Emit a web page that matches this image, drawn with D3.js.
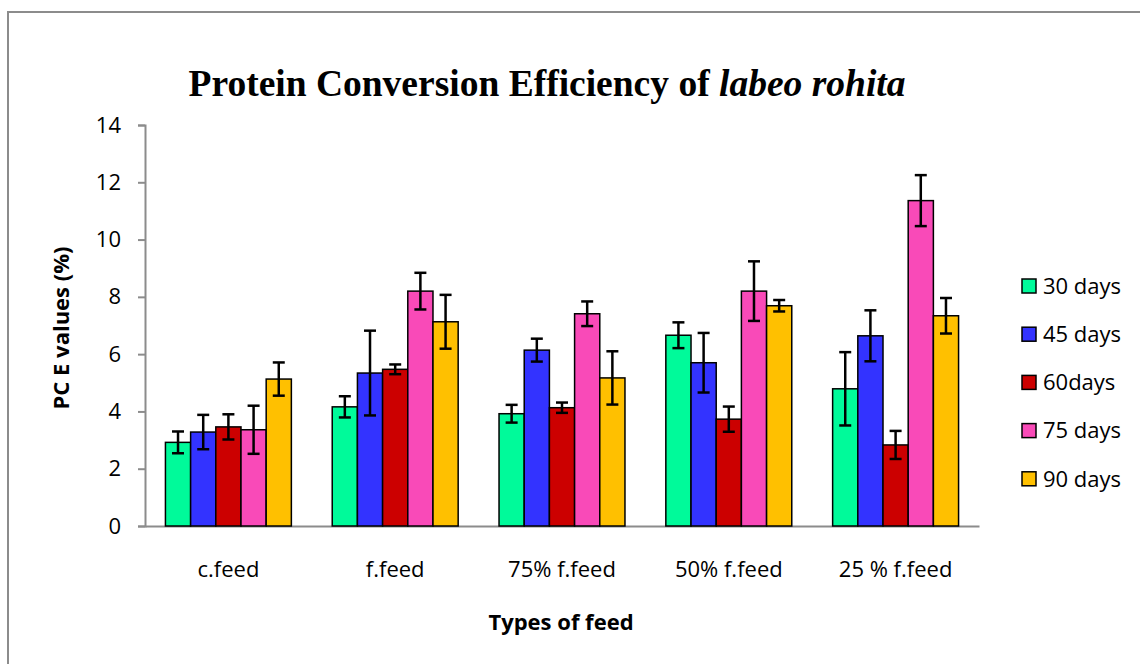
<!DOCTYPE html>
<html>
<head>
<meta charset="utf-8">
<script src="https://cdn.jsdelivr.net/npm/d3@7"></script>
<style>
  body { margin: 0; background: #fff; }
  svg { display: block; }
  .tick text { font-family: "Open Sans", sans-serif; }
</style>
</head>
<body>
<div id="chartContainer"></div>
<script>
// Chart data
const feeds = ['c.feed', 'f.feed', '75% f.feed', '50% f.feed', '25 % f.feed'];
const periods = ['30 days', '45 days', '60days', '75 days', '90 days'];
const colors = ['#00fa9a', '#3333ff', '#cc0000', '#f94ab8', '#ffc000'];
const yTicks = [0, 2, 4, 6, 8, 10, 12, 14];

// one array per period, one value per feed
const days30 = [2.92, 4.16, 3.92, 6.66, 4.79];
const days45 = [3.28, 5.34, 6.14, 5.70, 6.64];
const days60 = [3.46, 5.47, 4.13, 3.73, 2.83];
const days75 = [3.36, 8.20, 7.41, 8.20, 11.36];
const days90 = [5.13, 7.13, 5.17, 7.69, 7.34];

// error bars (+/-)
const err30 = [0.38, 0.37, 0.31, 0.45, 1.28];
const err45 = [0.60, 1.48, 0.40, 1.04, 0.89];
const err60 = [0.44, 0.17, 0.18, 0.44, 0.49];
const err75 = [0.84, 0.64, 0.43, 1.04, 0.89];
const err90 = [0.58, 0.94, 0.93, 0.20, 0.62];

const values = [days30, days45, days60, days75, days90];
const errors = [err30, err45, err60, err75, err90];

// Page and plot size
const width = 1140;
const height = 664;
const plot = {left: 145, right: 979, top: 125, bottom: 526};

var svg = d3.select('#chartContainer')
    .append('svg')
    .attr('width', width)
    .attr('height', height);

// Outer frame of the chart area (runs off the page on right and bottom)
svg.append('rect')
   .attr('x', 8)
   .attr('y', 12)
   .attr('width', width + 20)
   .attr('height', height + 20)
   .attr('fill', 'none')
   .attr('stroke', '#8c8c8c')
   .attr('stroke-width', 2);

var x0 = d3.scaleBand()
    .domain(feeds)
    .range([plot.left, plot.right])
    .paddingInner(0.245)
    .paddingOuter(0.1225);

var x1 = d3.scaleBand()
    .domain(periods)
    .range([0, x0.bandwidth()]);

var y = d3.scaleLinear()
    .domain([0, 14])
    .range([plot.bottom, plot.top]);

// Y axis
var yAxis = svg.append('g')
    .attr('transform', `translate(${plot.left},0)`)
    .call(d3.axisLeft(y).tickValues(yTicks).tickSize(7).tickPadding(17));
yAxis.select('.domain').attr('stroke', '#8c8c8c').attr('stroke-width', 2);
yAxis.selectAll('.tick line').attr('stroke', '#8c8c8c').attr('stroke-width', 2);
yAxis.selectAll('.tick text').attr('font-size', 22).attr('fill', '#000');

// X axis, no tick marks
var xAxis = svg.append('g')
    .attr('transform', `translate(0,${plot.bottom})`)
    .call(d3.axisBottom(x0).tickSize(0).tickPadding(35).tickSizeOuter(0));
xAxis.select('.domain').attr('stroke', '#8c8c8c').attr('stroke-width', 2);
xAxis.selectAll('.tick text').attr('font-size', 22).attr('fill', '#000');

// Bars: one group per feed
var groups = svg.selectAll('g.feed')
    .data(feeds)
    .enter()
    .append('g')
    .attr('class', 'feed')
    .attr('transform', (d) => `translate(${x0(d)},0)`);

var bars = groups.selectAll('g.bar')
    .data((d, fi) => periods.map((p, pi) => ({p: p, pi: pi, v: values[pi][fi], e: errors[pi][fi]})))
    .enter()
    .append('g')
    .attr('class', 'bar');

bars.append('rect')
    .attr('x', (d) => x1(d.p))
    .attr('y', (d) => y(d.v))
    .attr('width', x1.bandwidth())
    .attr('height', (d) => y(0) - y(d.v))
    .attr('fill', (d) => colors[d.pi])
    .attr('stroke', '#000')
    .attr('stroke-width', 1.5);

// Error bars with caps
const cap = 6;
bars.append('line')
    .attr('x1', (d) => x1(d.p) + x1.bandwidth() / 2)
    .attr('x2', (d) => x1(d.p) + x1.bandwidth() / 2)
    .attr('y1', (d) => y(d.v + d.e))
    .attr('y2', (d) => y(d.v - d.e))
    .attr('stroke', '#000')
    .attr('stroke-width', 2.5);
bars.selectAll('line.cap')
    .data((d) => [d.v + d.e, d.v - d.e].map((v) => ({v: v, c: x1(d.p) + x1.bandwidth() / 2})))
    .enter()
    .append('line')
    .attr('class', 'cap')
    .attr('x1', (d) => d.c - cap)
    .attr('x2', (d) => d.c + cap)
    .attr('y1', (d) => y(d.v))
    .attr('y2', (d) => y(d.v))
    .attr('stroke', '#000')
    .attr('stroke-width', 2.5);

// Title
var title = svg.append('text')
    .attr('x', 547)
    .attr('y', 96)
    .attr('text-anchor', 'middle')
    .attr('font-family', '"Liberation Serif", "Times New Roman", serif')
    .attr('font-weight', 'bold')
    .attr('font-size', 37.5)
    .attr('fill', '#000');
title.append('tspan').text('Protein Conversion Efficiency of ');
title.append('tspan').attr('font-style', 'italic').text('labeo rohita');

// Axis titles
svg.append('text')
   .attr('transform', 'translate(69,328) rotate(-90)')
   .attr('text-anchor', 'middle')
   .attr('font-family', '"Open Sans", sans-serif')
   .attr('font-weight', 'bold')
   .attr('font-size', 22)
   .text('PC E values (%)');

svg.append('text')
   .attr('x', 561)
   .attr('y', 630)
   .attr('text-anchor', 'middle')
   .attr('font-family', '"Open Sans", sans-serif')
   .attr('font-weight', 'bold')
   .attr('font-size', 22)
   .text('Types of feed');

// Legend
var legend = svg.selectAll('g.legend')
    .data(periods)
    .enter()
    .append('g')
    .attr('class', 'legend')
    .attr('transform', (d, i) => `translate(1022,${286 + i * 48.2})`);
legend.append('rect')
    .attr('x', 0)
    .attr('y', -7)
    .attr('width', 14)
    .attr('height', 14)
    .attr('fill', (d, i) => colors[i])
    .attr('stroke', '#000')
    .attr('stroke-width', 1.5);
legend.append('text')
    .attr('x', 21)
    .attr('y', 0)
    .attr('dy', '0.35em')
    .attr('font-family', '"Open Sans", sans-serif')
    .attr('font-size', 22)
    .text((d) => d);
</script>
</body>
</html>
